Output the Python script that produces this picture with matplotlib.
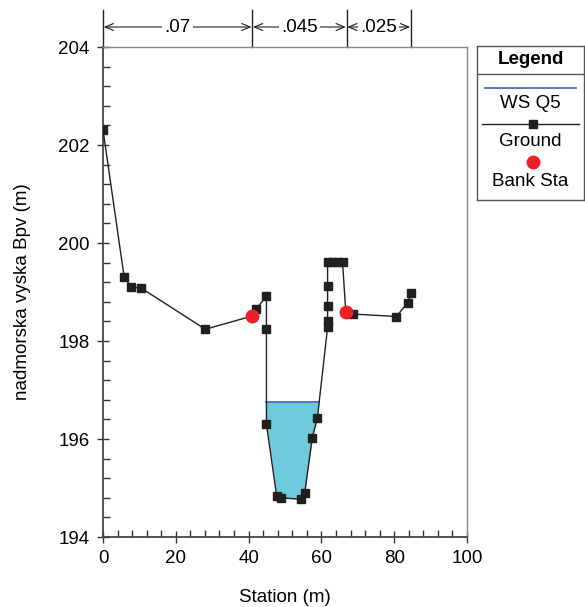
import matplotlib
matplotlib.use("Agg")
import matplotlib.pyplot as plt
import numpy as np

plt.rcParams['font.family'] = ['Liberation Sans', 'DejaVu Sans']

# Ground profile (station m, elevation m)
station = [0, 5.8, 7.7, 10.5, 28.1, 41.0, 42.1, 44.9, 44.9, 44.9, 47.7, 48.8,
           54.5, 55.4, 57.5, 58.9, 61.7, 61.7, 61.7, 61.7, 61.7, 63.0, 64.5,
           65.8, 66.7, 68.7, 80.6, 83.7, 84.7]
elev = [202.31, 199.31, 199.10, 199.08, 198.24, 198.51, 198.65, 198.92, 198.24,
        196.30, 194.84, 194.80, 194.77, 194.89, 196.03, 196.43, 198.28, 198.40,
        198.72, 199.13, 199.62, 199.62, 199.62, 199.62, 198.60, 198.55, 198.50,
        198.78, 198.98]
# Bank stations
bank_sta = [41.0, 66.7]
bank_elev = [198.51, 198.60]
# Water surface
ws_elev = 196.75
# Manning's n
n_bounds = [0, 41.0, 66.9, 84.6]
n_values = [".07", ".045", ".025"]

FS = 13.5

fig = plt.figure(figsize=(5.85, 6.07), dpi=100)
ax = fig.add_axes([103/585, 70/607, 364/585, 490/607])

x = np.array(station)
y = np.array(elev)
ax.fill_between(x, y, ws_elev, where=y <= ws_elev, interpolate=True,
                color='#6dcbdc', lw=0, zorder=1)
mask = y <= ws_elev
idx = np.where(mask)[0]
i0, i1 = idx[0], idx[-1]
def cross(a, b):
    xa, ya, xb, yb = x[a], y[a], x[b], y[b]
    return xa + (ws_elev - ya) * (xb - xa) / (yb - ya)
xl = cross(i0 - 1, i0)
xr = cross(i1, i1 + 1)
ax.plot([xl, xr], [ws_elev, ws_elev], color='#3a5cb8', lw=1.2, zorder=2)

ax.plot(x, y, color='#231f20', lw=1.0, marker='s', ms=6, mec='#231f20',
        mfc='#231f20', zorder=3)
ax.plot(bank_sta, bank_elev, 'o', color='#ee2026', ms=10, zorder=4, mec='none')

ax.set_xlim(0, 100)
ax.set_ylim(194, 204)
ax.set_xticks(np.arange(0, 101, 20))
ax.set_yticks(np.arange(194, 205, 2))
ax.set_xticks(np.arange(0, 101, 4), minor=True)
ax.set_yticks(np.arange(194, 204.01, 0.4), minor=True)
ax.tick_params(which='major', direction='inout', length=9, width=1,
               labelsize=FS, color='#333333', pad=5)
ax.tick_params(which='minor', direction='in', length=5, width=1, color='#333333')
for s in ['left', 'bottom']:
    ax.spines[s].set_color('#444444')
    ax.spines[s].set_linewidth(1.3)
for s in ['top', 'right']:
    ax.spines[s].set_color('#888888')
    ax.spines[s].set_linewidth(1.0)
ax.set_xlabel('Station (m)', fontsize=FS, labelpad=16)
ax.set_ylabel('nadmorska vyska Bpv (m)', fontsize=FS, labelpad=20)

# Manning's n boundaries
tr = ax.get_xaxis_transform()
for b in n_bounds:
    ax.plot([b, b], [1.0, 1.0755], transform=tr, color='#231f20', lw=1.0,
            clip_on=False)
ya = 1.0408
for i, t in enumerate(n_values):
    a, b = n_bounds[i], n_bounds[i + 1]
    ax.annotate('', xy=(b, ya), xytext=(a, ya), xycoords=tr, textcoords=tr,
                arrowprops=dict(arrowstyle='<->,head_length=0.6,head_width=0.25',
                                color='#231f20', lw=0.8, shrinkA=0.5, shrinkB=0.5))
    ax.text((a + b) / 2, ya, t, transform=tr, ha='center', va='center',
            fontsize=FS, bbox=dict(facecolor='white', edgecolor='none', pad=1.5))

# Legend box
lg = fig.add_axes([477/585, (607-200)/607, 107/585, 154/607])
lg.set_xlim(0, 107)
lg.set_ylim(200, 46)
lg.set_xticks([]); lg.set_yticks([])
for s in lg.spines.values():
    s.set_color('#555555'); s.set_linewidth(1.0)
lg.plot([0, 107], [74, 74], color='#555555', lw=1.0)
lg.text(53.5, 60, 'Legend', ha='center', va='center', fontsize=FS,
        fontweight='bold')
lg.plot([8, 99], [88, 88], color='#3a5cb8', lw=1.2)
lg.text(53.5, 104, 'WS Q5', ha='center', va='center', fontsize=FS)
lg.plot([5, 102], [124, 124], color='#231f20', lw=1.0)
lg.plot([56], [124], 's', color='#231f20', ms=6)
lg.text(53.5, 142, 'Ground', ha='center', va='center', fontsize=FS)
lg.plot([56], [162], 'o', color='#ee2026', ms=10, mec='none')
lg.text(53.5, 181, 'Bank Sta', ha='center', va='center', fontsize=FS)

fig.savefig('out.png', dpi=100)
